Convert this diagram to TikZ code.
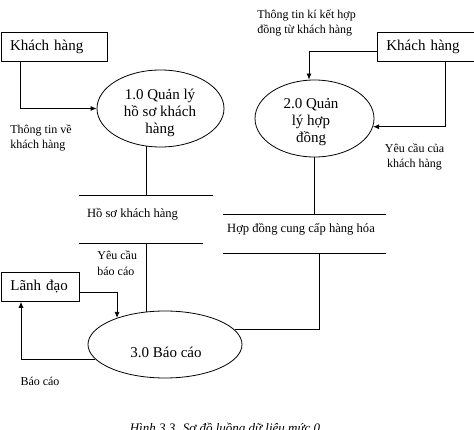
\documentclass[tikz,border=0pt]{standalone}
\usepackage{fontspec}
\setmainfont{Liberation Serif}
\usetikzlibrary{shapes.geometric,arrows.meta}
\begin{document}
\begin{tikzpicture}[x=1pt,y=-1pt,
  line width=0.8pt,
  ent/.style={draw, rectangle, minimum height=29pt, inner ysep=0pt, inner xsep=9pt, align=left, font=\fontsize{15}{17}\selectfont},
  proc/.style={draw, ellipse, inner sep=0pt},
  ptext/.style={align=center, inner sep=0pt, font=\fontsize{15}{17}\selectfont},
  lbl/.style={inner sep=0pt, font=\fontsize{12}{15.5}\selectfont},
  storetext/.style={inner sep=0pt, font=\fontsize{12.6}{15}\selectfont},
  arr/.style={-{Latex[length=6pt,width=5pt]}},
]
\useasboundingbox (0,0) rectangle (474,430);

% external entities
\node[ent, text width=88pt, anchor=north west] (kh1) at (0.7,32) {Khách hàng};
\node[ent, text width=60pt, anchor=north west] (ld) at (1,272) {Lãnh đạo};
\node[ent, text width=100pt, anchor=north west] (kh2) at (377,32) {Khách hàng};

% processes
\node[proc, minimum width=127pt, minimum height=77pt] (e1) at (160.5,108.5) {};
\node[proc, minimum width=119pt, minimum height=77pt] (e2) at (314.5,118.5) {};
\node[proc, minimum width=154pt, minimum height=67pt] (e3) at (165,344.5) {};
\node[ptext] (e1t) at (160,113) {1.0 Quản lý\\hồ sơ khách\\hàng};
\node[ptext] (e2t) at (311,122) {2.0 Quản\\lý hợp\\đồng};
\node[ptext] (e3t) at (166,352) {3.0 Báo cáo};

% data stores
\coordinate (s1tl) at (79,195); \coordinate (s1tr) at (213,195);
\coordinate (s1bl) at (79,243); \coordinate (s1br) at (203,243);
\draw (s1tl) -- (s1tr);
\draw (s1bl) -- (s1br);
\node[storetext] (s1) at (132.5,214) {Hồ sơ khách hàng};

\coordinate (s2tl) at (223,214); \coordinate (s2tr) at (386,214);
\coordinate (s2bl) at (223,253); \coordinate (s2br) at (386,253);
\coordinate (s2j) at (319,253);
\draw (s2tl) -- (s2tr);
\draw (s2bl) -- (s2br);
\node[storetext] (s2) at (301,229) {Hợp đồng cung cấp hàng hóa};

% flows
\draw[arr] ([xshift=20pt]kh1.south west) |- (e1.west);
\draw (e1.249) -- (e1.249 |- s1tl);
\draw (e3.120) -- (e3.120 |- s1bl);
\draw[arr] ([yshift=-5.5pt]ld.east) -| (e3.151);
\draw[arr] (e3.192) -| ([xshift=20pt]ld.south west);
\draw (e3.12) -| (s2j);
\draw (e2.south) -- (e2.south |- s2tl);
\draw[arr] ([yshift=-5pt]kh2.west) -| ([xshift=-5.5pt]e2.north);
\draw[arr] ([xshift=68pt]kh2.south west) |- (e2.-8);

% labels
\node[lbl, align=left, anchor=west] (l1) at (10,138) {Thông tin về\\khách hàng};
\node[lbl, align=left, anchor=west] (l2) at (257,23) {Thông tin kí kết hợp\\đồng từ khách hàng};
\node[lbl, align=center] (l3) at (414.5,157) {Yêu cầu của\\khách hàng};
\node[lbl, align=left, anchor=west] (l4) at (97,263) {Yêu cầu\\báo cáo};
\node[lbl] (l5) at (40,381) {Báo cáo};

% caption (cut off at the bottom edge)
\node[font=\fontsize{13}{15}\selectfont\itshape, anchor=base, inner sep=0pt] (cap) at (225,432) {Hình 3.3. Sơ đồ luồng dữ liệu mức 0};
\end{tikzpicture}
\end{document}
